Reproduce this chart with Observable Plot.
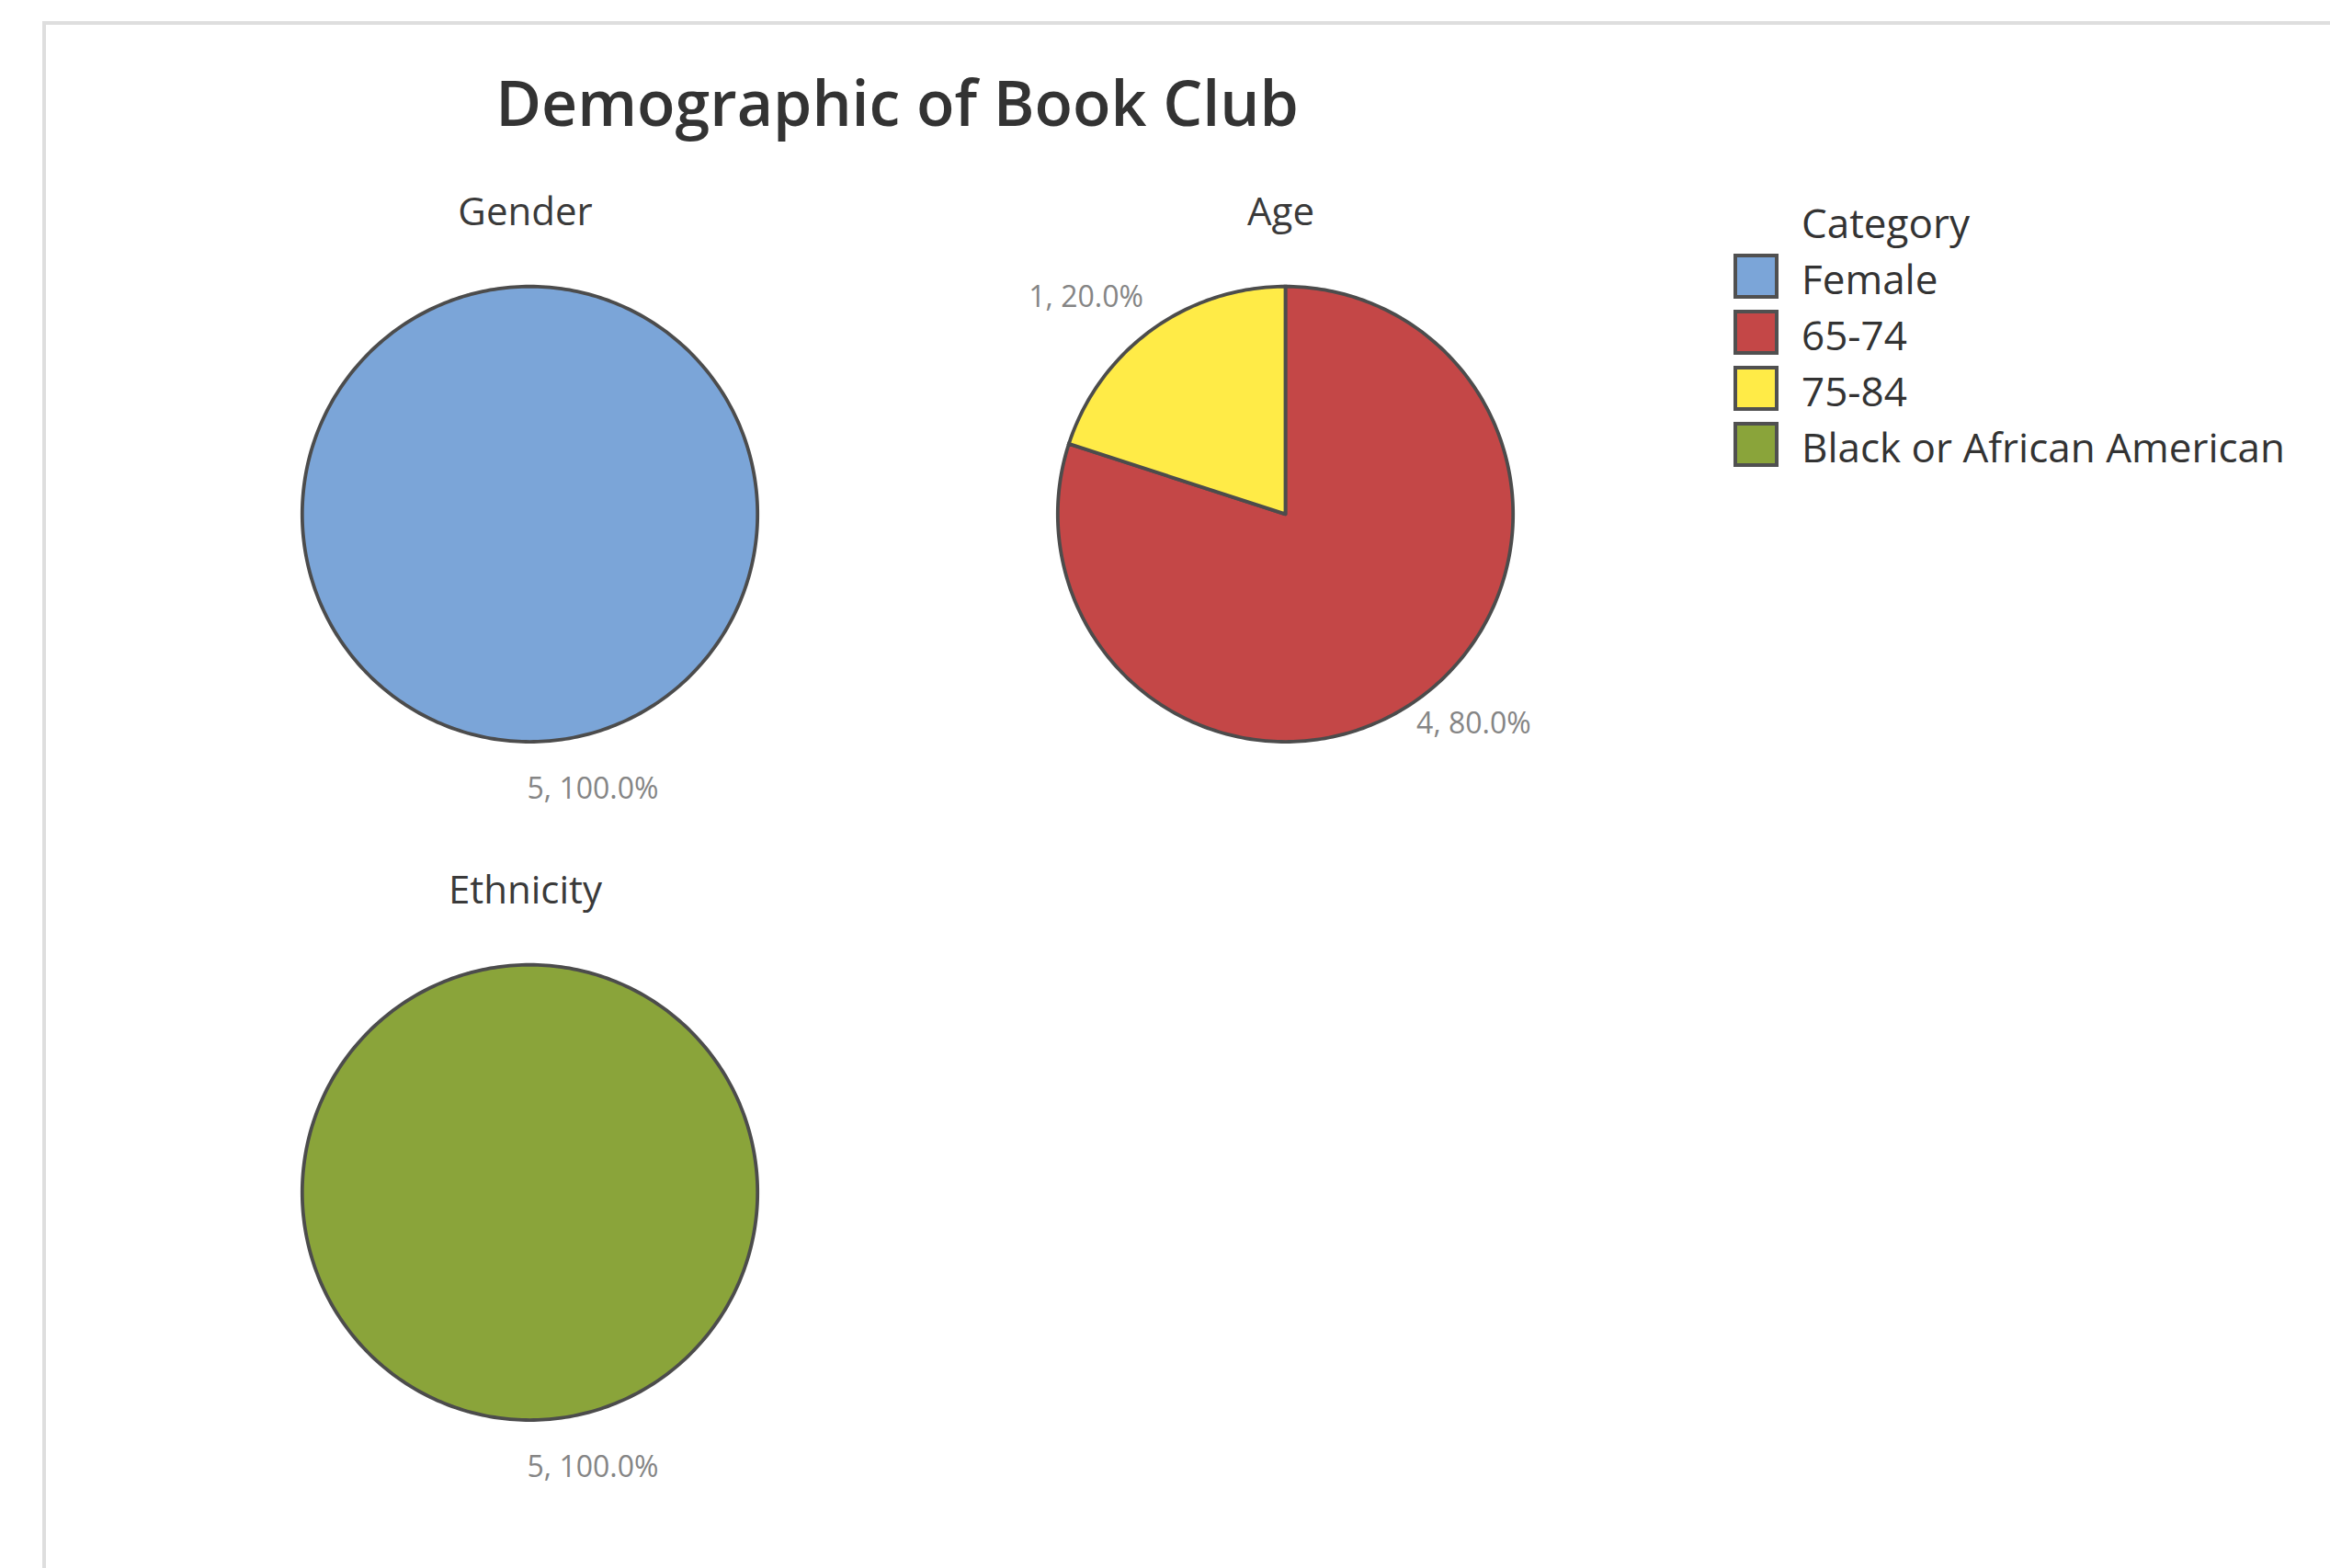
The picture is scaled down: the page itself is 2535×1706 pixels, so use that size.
<!DOCTYPE html>
<html>
<head>
<meta charset="utf-8">
<script src="https://cdn.jsdelivr.net/npm/d3@7"></script>
<script src="https://cdn.jsdelivr.net/npm/@observablehq/plot@0.6"></script>
<style>
  html, body { margin: 0; padding: 0; background: #fff; }
  body { width: 2535px; height: 1706px; position: relative; overflow: hidden; font-family: "Open Sans", sans-serif; }
  #frame { position: absolute; left: 46px; top: 23px; width: 2700px; height: 1900px; border: 4px solid #dedede; box-sizing: border-box; }
  .abs { position: absolute; white-space: nowrap; line-height: 1; }
  #title { font-size: 68px; font-weight: 550; color: #333; transform: translateX(-50%); }
  .lg-text { font-size: 44px; color: #333; }
  .swatch { position: absolute; width: 49px; height: 49px; border: 4px solid #505050; box-sizing: border-box; }
</style>
</head>
<body>
<div id="frame"></div>
<div id="title" class="abs"></div>
<div id="panels"></div>
<div id="legend"></div>
<script>
// ---------- data ----------
const chartTitle = "Demographic of Book Club";
const panelNames = ["Gender", "Age", "Ethnicity"];
const genderCategories = ["Female"];
const genderCounts = [5];
const ageCategories = ["65-74", "75-84"];
const ageCounts = [4, 1];
const ethnicityCategories = ["Black or African American"];
const ethnicityCounts = [5];
const legendTitle = "Category";
const legendCategories = ["Female", "65-74", "75-84", "Black or African American"];

// ---------- styles / layout ----------
const categoryColors = ["#7BA5D8", "#C44747", "#FFEB47", "#8AA43A"];
const panelCenters = [[576, 559], [1398, 559], [576, 1297]];
const R = 247.7;               // pixels per unit radius
const xDom = [-1.3, 1.3];
const yDom = [-1.45, 1.55];
const titleSize = 68, labelSize = 32, lgFont = 44;

const panelData = [
  {name: panelNames[0], cats: genderCategories, counts: genderCounts},
  {name: panelNames[1], cats: ageCategories, counts: ageCounts},
  {name: panelNames[2], cats: ethnicityCategories, counts: ethnicityCounts}
];

// title
const titleEl = document.getElementById("title");
titleEl.textContent = chartTitle;
titleEl.style.left = "976px";
titleEl.style.top = (113 - 0.531 * titleSize) + "px";

const panelsEl = document.getElementById("panels");

panelData.forEach((p, i) => {
  const rows = p.cats.map((c, j) => ({category: c, count: p.counts[j]}));
  const total = d3.sum(rows, d => d.count);
  const arcs = d3.pie().sort(null).value(d => d.count)(rows);
  const step = Math.PI / 180;
  const pts = [];
  const labels = [];
  arcs.forEach(a => {
    const span = a.endAngle - a.startAngle;
    const full = span >= 2 * Math.PI - 1e-9;
    const n = Math.max(2, Math.ceil(span / step));
    if (!full) pts.push({category: a.data.category, x: 0, y: 0});
    for (let k = 0; k <= n; k++) {
      const ang = a.startAngle + span * k / n;
      pts.push({category: a.data.category, x: Math.sin(ang), y: Math.cos(ang)});
    }
    if (!full) pts.push({category: a.data.category, x: 0, y: 0});
    const mid = (a.startAngle + a.endAngle) / 2;
    const s = Math.sin(mid), c = -Math.cos(mid);  // c: downward component
    const dyPx = Math.sign(c) * 56 * Math.pow(Math.abs(c), 2.7) - 4;
    labels.push({
      text: `${a.data.count}, ${(a.data.count / total * 100).toFixed(1)}%`,
      x: s,
      y: Math.cos(mid) - dyPx / R,
      side: s >= -1e-6 ? "start" : "end"
    });
  });

  const w = Math.round((xDom[1] - xDom[0]) * R);
  const h = Math.round((yDom[1] - yDom[0]) * R);
  const chart = Plot.plot({
    width: w,
    height: h,
    margin: 0,
    x: {domain: xDom, axis: null},
    y: {domain: yDom, axis: null},
    color: {domain: legendCategories, range: categoryColors},
    style: {background: "transparent", overflow: "visible"},
    marks: [
      Plot.line(pts, {x: "x", y: "y", z: "category", fill: "category", stroke: "#4c4c4c", strokeWidth: 3.8, strokeLinejoin: "miter", strokeMiterlimit: 4, curve: "linear"}),
      Plot.text([p.name], {frameAnchor: "top", text: d => d, dy: 56, dx: -5, lineAnchor: "middle", fontSize: 42, fill: "#3a3a3a", fontFamily: "Open Sans"}),
      Plot.text(labels.filter(d => d.side === "start"), {x: "x", y: "y", text: "text", textAnchor: "start", dx: -3, lineAnchor: "middle", fontSize: labelSize, fill: "#858585", fontFamily: "Open Sans"}),
      Plot.text(labels.filter(d => d.side === "end"), {x: "x", y: "y", text: "text", textAnchor: "end", dx: -9, lineAnchor: "middle", fontSize: labelSize, fill: "#858585", fontFamily: "Open Sans"})
    ]
  });
  const holder = document.createElement("div");
  holder.className = "abs";
  holder.style.left = (panelCenters[i][0] - (0 - xDom[0]) * R) + "px";
  holder.style.top = (panelCenters[i][1] - (yDom[1] - 0) * R) + "px";
  holder.appendChild(chart);
  panelsEl.appendChild(holder);
});

// legend
const legendEl = document.getElementById("legend");
const lgLeft = 1886, lgTextLeft = 1960, lgFirst = 300, lgStep = 61;
const lt = document.createElement("div");
lt.className = "abs lg-text";
lt.textContent = legendTitle;
lt.style.left = lgTextLeft + "px";
lt.style.top = (243 - 0.531 * lgFont) + "px";
legendEl.appendChild(lt);
legendCategories.forEach((c, i) => {
  const cy = lgFirst + i * lgStep;
  const sw = document.createElement("div");
  sw.className = "swatch";
  sw.style.left = lgLeft + "px";
  sw.style.top = (cy - 24.5) + "px";
  sw.style.background = categoryColors[i];
  legendEl.appendChild(sw);
  const tx = document.createElement("div");
  tx.className = "abs lg-text";
  tx.textContent = c;
  tx.style.left = lgTextLeft + "px";
  tx.style.top = (cy + 4 - 0.531 * lgFont) + "px";
  legendEl.appendChild(tx);
});
</script>
</body>
</html>
